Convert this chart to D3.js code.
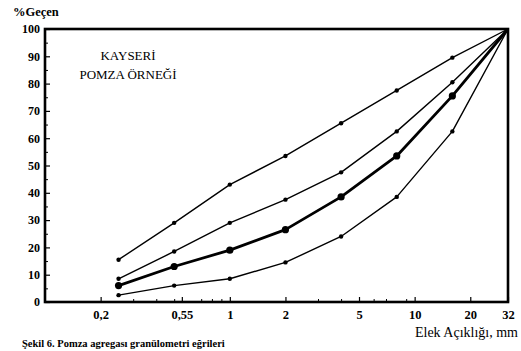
<!DOCTYPE html>
<html><head><meta charset="utf-8">
<script src="https://cdn.jsdelivr.net/npm/d3@7"></script>
<style>
body{margin:0;background:#fff;}
svg{display:block;}
text{font-family:"Liberation Serif","DejaVu Serif",serif;fill:#000;}
</style></head>
<body><svg id="c" width="521" height="351"></svg>
<script>
const sieves = [0.25, 0.5, 1, 2, 4, 8, 16, 32];
const curveTop = [15.5, 29, 43, 53.5, 65.5, 77.5, 89.5, 100];
const curveUpper = [8.5, 18.5, 29, 37.5, 47.5, 62.5, 80.5, 100];
const curveSample = [6, 13, 19, 26.5, 38.5, 53.5, 75.5, 100];
const curveBottom = [2.5, 6, 8.5, 14.5, 24, 38.5, 62.5, 100];
const xTickValues = [0.2, 0.55, 1, 2, 5, 10, 20, 32];
const xTickLabels = ["0,2", "0,55", "1", "2", "5", "10", "20", "32"];
const xMinorTicks = [0.3, 0.4, 0.5, 0.7, 0.8, 0.9, 3, 4, 6, 7, 9];
const yTickValues = [0, 10, 20, 30, 40, 50, 60, 70, 80, 90, 100];
const yMinorTicks = [5, 15, 25, 35, 45, 55, 65, 75, 85, 95];

const svg = d3.select("#c");
const L = 45, R = 508, T = 29, B = 302;
const x = d3.scaleLog().domain([0.1, 32]).range([L, R]);
const y = d3.scaleLinear().domain([0, 100]).range([B, T]);

// X axis
const xa = svg.append("g").attr("transform", `translate(0,${B})`)
  .call(d3.axisBottom(x).tickValues(xTickValues)
    .tickFormat((d, i) => xTickLabels[i]).tickSizeInner(-5).tickSizeOuter(0).tickPadding(8));
xa.select(".domain").remove();
xa.selectAll("line").attr("stroke", "#000").attr("stroke-width", 1.2);
xa.selectAll("text").attr("font-size", 12.5).attr("font-weight", "bold")
  .attr("font-family", "Liberation Serif, serif");
svg.append("g").attr("transform", `translate(0,${B})`)
  .call(d3.axisBottom(x).tickValues(xMinorTicks).tickFormat("").tickSizeInner(-3).tickSizeOuter(0))
  .call(g => g.select(".domain").remove())
  .selectAll("line").attr("stroke", "#000");

// Y axis
const ya = svg.append("g").attr("transform", `translate(${L},0)`)
  .call(d3.axisLeft(y).tickValues(yTickValues).tickSizeInner(-5).tickSizeOuter(0).tickPadding(5));
ya.select(".domain").remove();
ya.selectAll("line").attr("stroke", "#000").attr("stroke-width", 1.2);
ya.selectAll("text").attr("font-size", 12).attr("font-weight", "bold")
  .attr("font-family", "Liberation Serif, serif");
svg.append("g").attr("transform", `translate(${L},0)`)
  .call(d3.axisLeft(y).tickValues(yMinorTicks).tickFormat("").tickSizeInner(-3).tickSizeOuter(0))
  .call(g => g.select(".domain").remove())
  .selectAll("line").attr("stroke", "#000");

// Frame
svg.append("rect").attr("x", L).attr("y", T).attr("width", R - L).attr("height", B - T)
  .attr("fill", "none").attr("stroke", "#000").attr("stroke-width", 2.6);

// Curves
const series = [
  {v: curveTop, w: 1.4, r: 2.2},
  {v: curveUpper, w: 1.4, r: 2.2},
  {v: curveSample, w: 2.8, r: 3.6},
  {v: curveBottom, w: 1.4, r: 2.2}
];
const line = d3.line().x(d => x(d[0])).y(d => y(d[1]));
series.forEach(s => {
  const pts = sieves.map((sv, i) => [sv, s.v[i]]);
  svg.append("path").datum(pts).attr("d", line).attr("fill", "none")
    .attr("stroke", "#000").attr("stroke-width", s.w).attr("stroke-linejoin", "round");
  svg.append("g").selectAll("circle").data(pts.slice(0, -1)).join("circle")
    .attr("cx", d => x(d[0])).attr("cy", d => y(d[1])).attr("r", s.r).attr("fill", "#000");
});

// Texts
svg.append("text").attr("x", 13).attr("y", 16).attr("font-size", 12.5).attr("font-weight", "bold").text("%Geçen");
svg.append("text").attr("x", 128).attr("y", 60).attr("text-anchor", "middle").attr("font-size", 13).text("KAYSERİ");
svg.append("text").attr("x", 128).attr("y", 79).attr("text-anchor", "middle").attr("font-size", 13).text("POMZA ÖRNEĞİ");
svg.append("text").attr("x", 518).attr("y", 337).attr("text-anchor", "end").attr("font-size", 14).text("Elek Açıklığı, mm");
svg.append("text").attr("x", 22).attr("y", 347).attr("font-size", 10.5).attr("font-weight", "bold").text("Şekil 6. Pomza agregası granülometri eğrileri");
</script></body></html>
